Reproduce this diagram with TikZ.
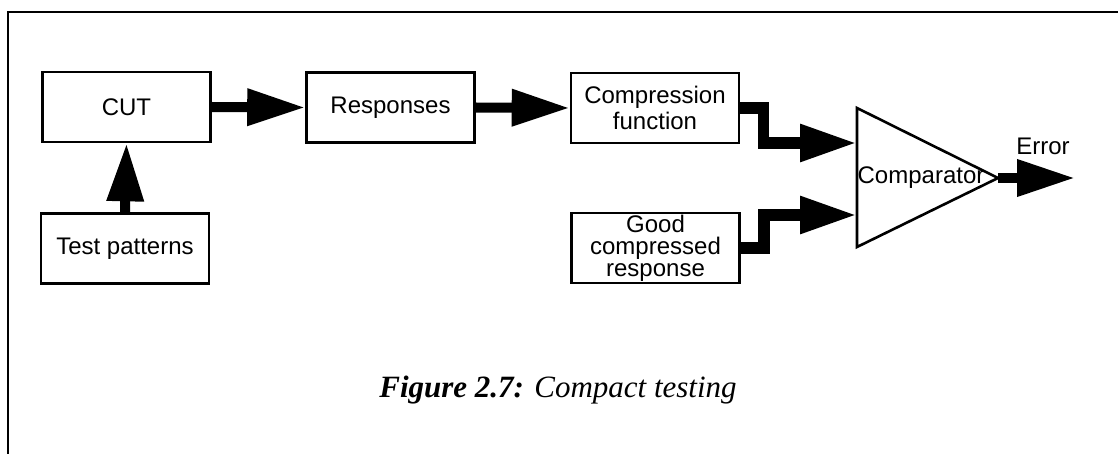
\documentclass[tikz,border=0pt]{standalone}
\usepackage{fontspec}
\setmainfont{Liberation Serif}
\setsansfont{Liberation Sans}
\usepackage{tikz}
\usetikzlibrary{arrows.meta, positioning}

\begin{document}
\begin{tikzpicture}[x=0.5pt, y=-0.5pt,
    box/.style={rectangle, draw, line width=1.3pt, minimum width=84pt, minimum height=35pt,
        inner sep=1pt, align=center, font=\sffamily\fontsize{12}{13}\selectfont},
    fat/.style={line width=5pt, -{Triangle[length=29pt, width=17.5pt]}},
    bent/.style={line width=5.8pt, miter limit=10, -{Triangle[length=28.5pt, width=17.5pt]}}]
    \useasboundingbox (0,0) rectangle (1118,454);
    \draw[line width=1pt] (1118,12) -- (8,12) -- (8,454);
    \node[box] (cut) at (126.5,107) {CUT};
    \node[box] (tp) at (125,248.5) {Test patterns};
    \node[box] (resp) at (390.5,107.5) {Responses};
    \node[box] (comp) at (655,108) {Compression\\function};
    \node[box, font=\sffamily\fontsize{12}{11}\selectfont] (good) at (655.5,248) {Good\\compressed\\response};
    % comparator
    \draw[line width=1.3pt, line join=miter] (857,108) -- (998,178) -- (857,247) -- cycle;
    \coordinate (in1) at (857,143);
    \coordinate (in2) at (857,215);
    \coordinate (out) at (998,178);
    \coordinate (err) at (1075,178);
    \node[font=\sffamily\fontsize{12}{13}\selectfont, inner sep=0pt] (cmp) at (921,178) {Comparator};
    \node[font=\sffamily\fontsize{12}{13}\selectfont, inner sep=0pt] (errlbl) at (1043,146) {Error};
    \draw[fat] (tp.north) -- (cut.south);
    \draw[fat] (cut.east) -- (resp.west);
    \draw[fat] (resp.east) -- (comp.west);
    \draw[bent] (comp.east) -- ++(23,0) |- (in1);
    \draw[bent] (good.east) -- ++(23,0) |- (in2);
    \draw[fat] (out) -- (err);
    \node[anchor=base, font=\fontsize{15.5}{17}\selectfont, inner sep=0pt] (cap) at (558,397)
        {\textbf{\textit{Figure 2.7:}} \textit{Compact testing}};
\end{tikzpicture}
\end{document}
